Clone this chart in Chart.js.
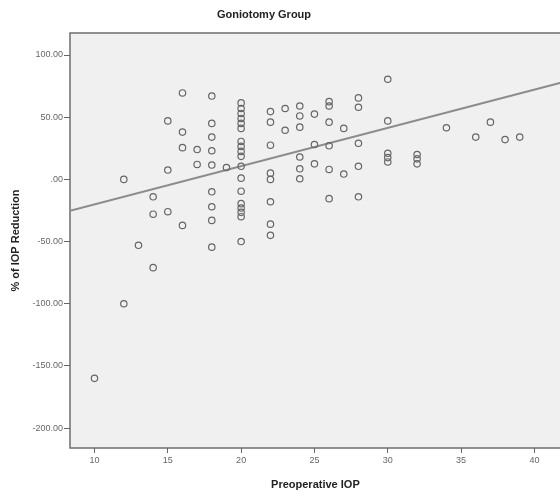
<!DOCTYPE html>
<html>
<head>
<meta charset="utf-8">
<script src="https://cdn.jsdelivr.net/npm/chart.js@4"></script>
<style>
  html, body { margin: 0; padding: 0; background: #fff; overflow: hidden; }
  #wrap { width: 566px; height: 499px; }
</style>
</head>
<body>
<div id="wrap"><canvas id="scatter" width="566" height="499"></canvas></div>
<script>
// ------------------------------------------------------- //
// Data
// ------------------------------------------------------ //
var preopIOP = [
  10,
  12, 12,
  13,
  14, 14, 14,
  15, 15, 15,
  16, 16, 16, 16,
  17, 17,
  18, 18, 18, 18, 18, 18, 18, 18, 18,
  19,
  20, 20, 20, 20, 20, 20, 20, 20, 20, 20, 20, 20, 20, 20, 20, 20, 20, 20,
  22, 22, 22, 22, 22, 22, 22, 22,
  23, 23,
  24, 24, 24, 24, 24, 24,
  25, 25, 25,
  26, 26, 26, 26, 26, 26,
  27, 27,
  28, 28, 28, 28, 28,
  30, 30, 30, 30, 30,
  32, 32, 32,
  34, 36, 37, 38, 39
];
var iopReduction = [
  -160,
  0, -100,
  -53,
  -14, -28, -71,
  47, 7.5, -26,
  69.5, 38, 25.5, -37,
  24, 12,
  67, 45, 34, 23, 11.5, -10, -22, -33, -54.5,
  9.5,
  61.5, 57, 53, 49, 45, 41, 30.5, 26.5, 22.5, 18.5, 10.5, 1, -9.5, -19.5, -23, -26.5, -30, -50,
  54.5, 46, 27.5, 5, 0, -18, -36, -45,
  57, 39.5,
  59, 51, 42, 18, 8.5, 0.5,
  52.5, 28, 12.5,
  62.5, 59, 46, 27, 8, -15.5,
  41, 4.3,
  65.5, 58, 29, 10.5, -14,
  80.5, 47, 21, 17.5, 14,
  20, 16.5, 12.5,
  41.5, 34, 46, 32, 34
];

// linear fit line
var fitIntercept = -51.0,
    fitSlope     = 3.08;

var xRange = [8.33, 41.8];
var yRange = [-216, 117.7];
var xTicks = [10, 15, 20, 25, 30, 35, 40];
var yTicks = [-200, -150, -100, -50, 0, 50, 100];

var pointGray = '#666666',
    lineGray  = '#8c8c8c',
    panel     = '#f0f0f0',
    frame     = '#6e6e6e';

// ------------------------------------------------------- //
// Build datasets
// ------------------------------------------------------ //
var points = preopIOP.map(function (x, i) {
  return { x: x, y: iopReduction[i] };
});
var fitLine = xRange.map(function (x) {
  return { x: x, y: fitIntercept + fitSlope * x };
});

// panel background, frame and title
var panelPlugin = {
  id: 'panel',
  beforeDraw: function (chart) {
    var a = chart.chartArea, c = chart.ctx;
    c.save();
    c.fillStyle = panel;
    c.fillRect(a.left, a.top, a.right - a.left, a.bottom - a.top);
    c.strokeStyle = frame;
    c.lineWidth = 1.5;
    c.strokeRect(a.left, a.top, a.right - a.left, a.bottom - a.top);
    c.restore();
  },
  afterDraw: function (chart) {
    var c = chart.ctx;
    c.save();
    c.fillStyle = '#222';
    c.font = 'bold 11px "Liberation Sans", Arial, sans-serif';
    c.textAlign = 'center';
    c.textBaseline = 'middle';
    c.fillText('Goniotomy Group', 264, 15);
    c.restore();
  }
};

var tickFont = { family: '"Liberation Sans", Arial, sans-serif', size: 9 };
var titleFont = { family: '"Liberation Sans", Arial, sans-serif', size: 11, weight: 'bold' };

new Chart(document.getElementById('scatter'), {
  type: 'scatter',
  plugins: [panelPlugin],
  data: {
    datasets: [
      {
        data: points,
        pointStyle: 'circle',
        pointRadius: 3.2,
        borderWidth: 1.2,
        borderColor: pointGray,
        backgroundColor: 'rgba(0,0,0,0)'
      },
      {
        type: 'line',
        data: fitLine,
        borderColor: lineGray,
        borderWidth: 2,
        pointRadius: 0,
        fill: false
      }
    ]
  },
  options: {
    responsive: false,
    devicePixelRatio: 1,
    animation: false,
    layout: { padding: { top: 33, left: 0, right: 0, bottom: 0 } },
    plugins: {
      legend: { display: false },
      tooltip: { enabled: false },
      title: { display: false }
    },
    scales: {
      x: {
        type: 'linear',
        min: xRange[0],
        max: xRange[1],
        afterBuildTicks: function (s) { s.ticks = xTicks.map(function (v) { return { value: v }; }); },
        afterFit: function (s) { s.height = 51; },
        grid: { drawOnChartArea: false, tickLength: 5, color: '#666' },
        border: { display: false },
        ticks: { color: '#666', font: tickFont, padding: 2, maxRotation: 0 },
        title: { display: true, text: 'Preoperative IOP', color: '#222', font: titleFont, padding: { top: 0, bottom: 7 } }
      },
      y: {
        type: 'linear',
        min: yRange[0],
        max: yRange[1],
        afterBuildTicks: function (s) { s.ticks = yTicks.map(function (v) { return { value: v }; }); },
        afterFit: function (s) { s.width = 70; },
        grid: { drawOnChartArea: false, tickLength: 6, color: '#666' },
        border: { display: false },
        ticks: {
          color: '#666', font: tickFont, padding: 1,
          callback: function (v) { return v === 0 ? '.00' : v.toFixed(2); }
        },
        title: { display: true, text: '% of IOP Reduction', color: '#222', font: titleFont, padding: { top: 9, bottom: 0 } }
      }
    }
  }
});
</script>
</body>
</html>
